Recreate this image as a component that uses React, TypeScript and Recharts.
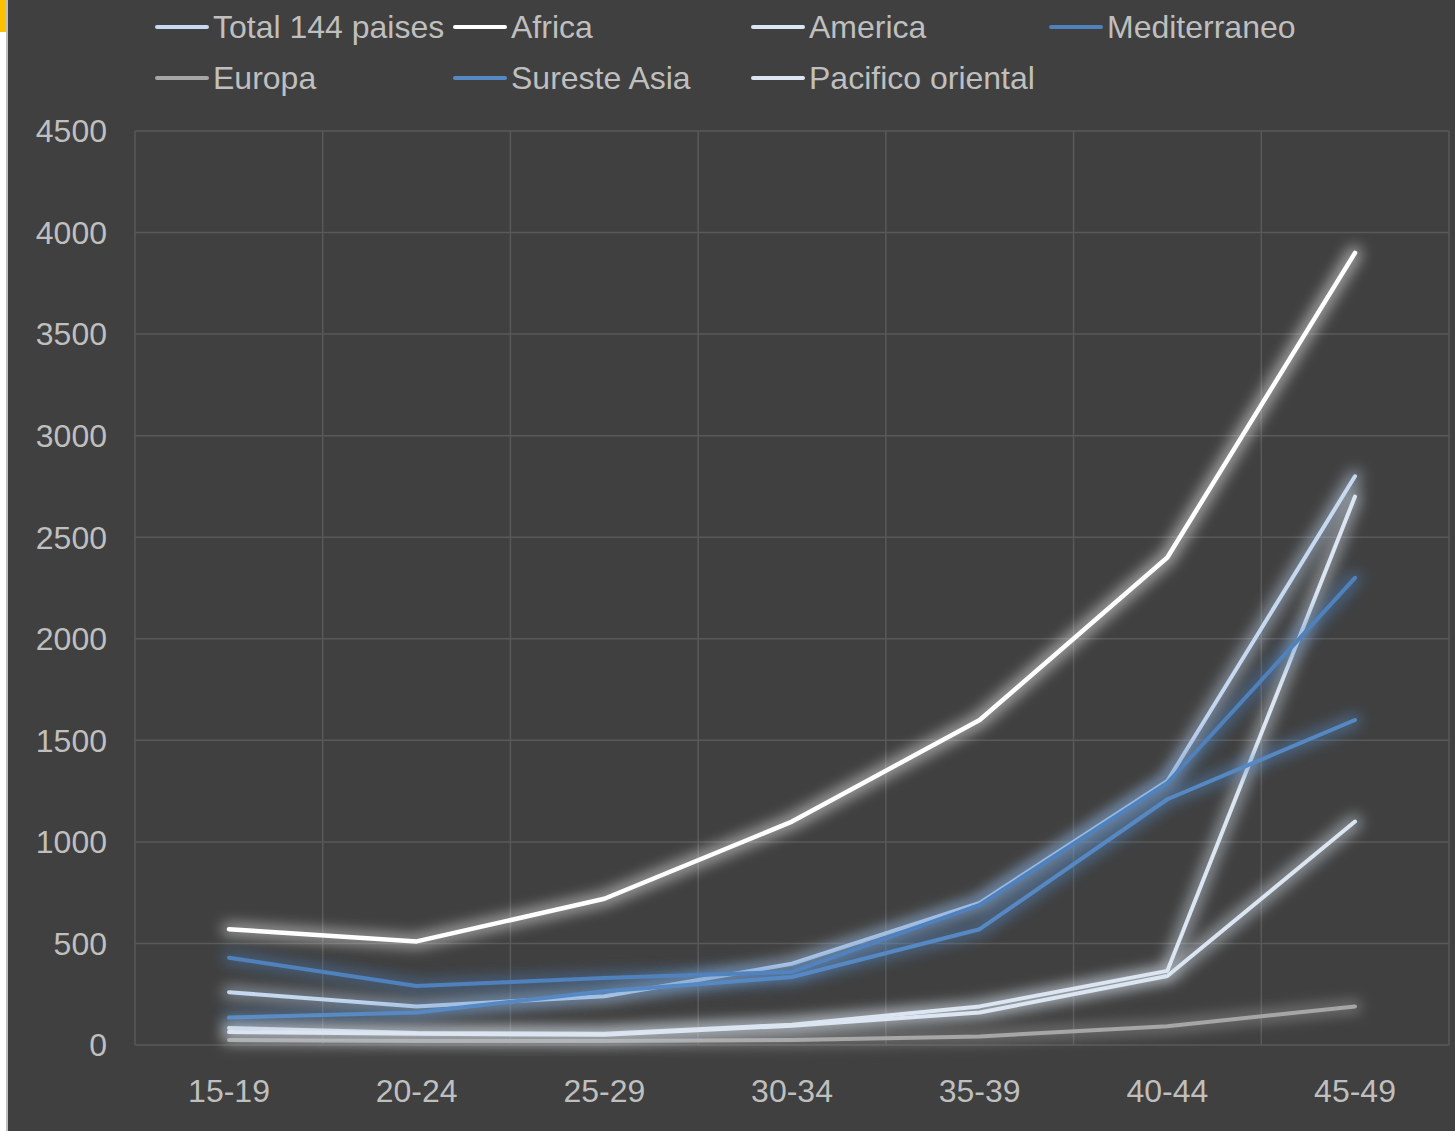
import React from 'react'
import { LineChart, Line, XAxis, YAxis, CartesianGrid, Legend } from 'recharts'

const ageGroups = ['15-19', '20-24', '25-29', '30-34', '35-39', '40-44', '45-49']
const total144 = [260, 190, 240, 400, 700, 1300, 2800]
const africa = [570, 510, 720, 1100, 1600, 2400, 3900]
const america = [84, 59, 55, 100, 190, 365, 2700]
const mediterraneo = [430, 290, 330, 360, 690, 1290, 2300]
const europa = [25, 20, 20, 25, 42, 92, 190]
const suresteAsia = [135, 160, 265, 335, 570, 1210, 1600]
const pacificoOriental = [64, 55, 50, 95, 160, 340, 1100]
const yTicks = [0, 500, 1000, 1500, 2000, 2500, 3000, 3500, 4000, 4500]

const series = [
  { key: 'total', name: 'Total 144 paises', values: total144, color: '#c6d9f1' },
  { key: 'africa', name: 'Africa', values: africa, color: '#ffffff' },
  { key: 'america', name: 'America', values: america, color: '#dce6f2' },
  { key: 'mediterraneo', name: 'Mediterraneo', values: mediterraneo, color: '#4f81bd' },
  { key: 'europa', name: 'Europa', values: europa, color: '#a6a6a6' },
  { key: 'sureste', name: 'Sureste Asia', values: suresteAsia, color: '#5689c4' },
  { key: 'pacifico', name: 'Pacifico oriental', values: pacificoOriental, color: '#dce6f2' },
]

const data = ageGroups.map((g, i) => {
  const row: Record<string, string | number> = { group: g }
  series.forEach((s) => { row[s.key] = s.values[i] })
  return row
})

const FONT = '"Liberation Sans", Arial, sans-serif'
const TEXT = '#bfbfbf'

const renderLegend = (props: any) => {
  const names = series.map((s) => s.name)
  const items = [...(props.payload || [])].sort(
    (a: any, b: any) => names.indexOf(a.value) - names.indexOf(b.value)
  )
  return (
    <div style={{ position: 'relative', height: 110, width: 1447 }}>
      {items.map((it: any, i: number) => {
        const col = i % 4
        const row = Math.floor(i / 4)
        return (
          <div key={i} style={{
            position: 'absolute',
            left: 147 + col * 298,
            top: 27 + row * 51 - 19,
            height: 38,
            display: 'flex',
            alignItems: 'center',
            whiteSpace: 'nowrap',
          }}>
            <span style={{ display: 'inline-block', width: 54, height: 4, borderRadius: 2, background: it.color, marginRight: 4 }} />
            <span style={{ fontFamily: FONT, fontSize: 32, color: TEXT }}>{it.value}</span>
          </div>
        )
      })}
    </div>
  )
}

export default function App() {
  return (
    <div style={{ position: 'absolute', top: 0, left: 0, width: 1455, height: 1131, background: '#ffffff' }}>
      <div style={{ position: 'absolute', left: 0, top: 0, width: 6, height: 32, background: '#ffc000' }} />
      <div style={{ position: 'absolute', left: 6, top: 0, width: 2, height: 1131, background: '#bfbfbf' }} />
      <div style={{ position: 'absolute', left: 8, top: 0, width: 1447, height: 1131, background: '#404040' }}>
        <LineChart width={1447} height={1131} data={data} margin={{ top: 21, right: 6, bottom: 56, left: 0 }}>
          <defs>
            <filter id="glow" filterUnits="userSpaceOnUse" x="0" y="0" width="1447" height="1131">
              <feMorphology in="SourceGraphic" operator="dilate" radius="4" result="thick" />
              <feGaussianBlur in="thick" stdDeviation="7" result="blur" />
              <feComponentTransfer in="blur" result="soft">
                <feFuncA type="linear" slope="0.5" />
              </feComponentTransfer>
              <feMerge>
                <feMergeNode in="soft" />
                <feMergeNode in="SourceGraphic" />
              </feMerge>
            </filter>
          </defs>
          <CartesianGrid
            stroke="#595959"
            strokeWidth={1.5}
            verticalCoordinatesGenerator={({ offset }: any) => {
              const step = offset.width / ageGroups.length
              return ageGroups.map((_, i) => offset.left + i * step).concat(offset.left + offset.width)
            }}
          />
          <XAxis
            dataKey="group"
            height={30}
            padding={{ left: 94, right: 94 }}
            axisLine={false}
            tickLine={false}
            tickSize={0}
            tickMargin={34}
            tick={{ fontSize: 32, fill: TEXT, fontFamily: FONT }}
          />
          <YAxis
            domain={[0, 4500]}
            ticks={yTicks}
            width={127}
            axisLine={false}
            tickLine={false}
            tickSize={0}
            tickMargin={28}
            tick={{ fontSize: 32, fill: TEXT, fontFamily: FONT }}
          />
          <Legend
            verticalAlign="top"
            align="left"
            content={renderLegend}
            wrapperStyle={{ top: 0, left: 0, width: 1447, height: 110 }}
          />
          {series.map((s) => (
            <Line
              key={s.key}
              type="linear"
              dataKey={s.key}
              name={s.name}
              stroke={s.color}
              strokeWidth={s.key === 'africa' ? 4.5 : 4}
              strokeLinecap="round"
              strokeLinejoin="round"
              dot={false}
              activeDot={false}
              filter="url(#glow)"
              isAnimationActive={false}
            />
          ))}
        </LineChart>
      </div>
    </div>
  )
}
